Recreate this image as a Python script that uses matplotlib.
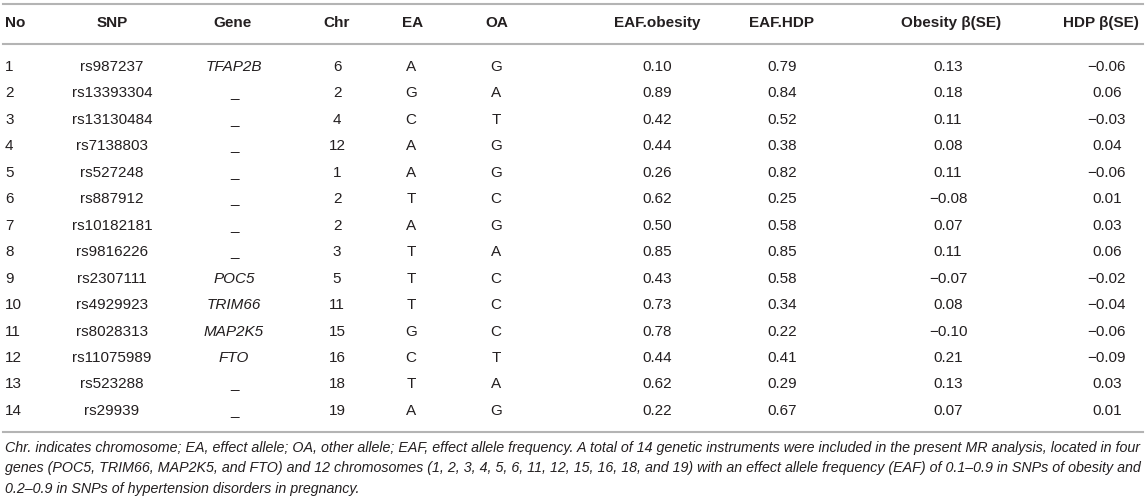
import matplotlib
matplotlib.use("Agg")
from matplotlib import pyplot as plt
from matplotlib.lines import Line2D

plt.rcParams['font.family'] = ['Liberation Sans', 'DejaVu Sans']

# table contents
headers = ['No', 'SNP', 'Gene', 'Chr', 'EA', 'OA', 'EAF.obesity', 'EAF.HDP', 'Obesity β(SE)', 'HDP β(SE)']
snp = ['rs987237', 'rs13393304', 'rs13130484', 'rs7138803', 'rs527248', 'rs887912', 'rs10182181',
       'rs9816226', 'rs2307111', 'rs4929923', 'rs8028313', 'rs11075989', 'rs523288', 'rs29939']
gene = ['TFAP2B', '_', '_', '_', '_', '_', '_', '_', 'POC5', 'TRIM66', 'MAP2K5', 'FTO', '_', '_']
chrom = ['6', '2', '4', '12', '1', '2', '2', '3', '5', '11', '15', '16', '18', '19']
ea = ['A', 'G', 'C', 'A', 'A', 'T', 'A', 'T', 'T', 'T', 'G', 'C', 'T', 'A']
oa = ['G', 'A', 'T', 'G', 'G', 'C', 'G', 'A', 'C', 'C', 'C', 'T', 'A', 'G']
eaf_obesity = ['0.10', '0.89', '0.42', '0.44', '0.26', '0.62', '0.50', '0.85', '0.43', '0.73', '0.78', '0.44', '0.62', '0.22']
eaf_hdp = ['0.79', '0.84', '0.52', '0.38', '0.82', '0.25', '0.58', '0.85', '0.58', '0.34', '0.22', '0.41', '0.29', '0.67']
beta_obesity = ['0.13', '0.18', '0.11', '0.08', '0.11', '−0.08', '0.07', '0.11', '−0.07', '0.08', '−0.10', '0.21', '0.13', '0.07']
beta_hdp = ['−0.06', '0.06', '−0.03', '0.04', '−0.06', '0.01', '0.03', '0.06', '−0.02', '−0.04', '−0.06', '−0.09', '0.03', '0.01']

footnote = [
    'Chr. indicates chromosome; EA, effect allele; OA, other allele; EAF, effect allele frequency. A total of 14 genetic instruments were included in the present MR analysis, located in four',
    'genes (POC5, TRIM66, MAP2K5, and FTO) and 12 chromosomes (1, 2, 3, 4, 5, 6, 11, 12, 15, 16, 18, and 19) with an effect allele frequency (EAF) of 0.1–0.9 in SNPs of obesity and',
    '0.2–0.9 in SNPs of hypertension disorders in pregnancy.',
]

W, H = 1146, 501
fig = plt.figure(figsize=(W / 100, H / 100), dpi=100)

def px(x, y):
    return x / W, 1 - y / H

col_x = [5, 112, 234, 337, 411, 496, 657, 782, 948, 1107]
head_x = [5, 112, 233, 337, 413, 497, 657, 781, 951, 1101]
col_ha = ['left'] + ['center'] * 9
txt_col = '#231f20'
line_col = '#b4b4b4'

# rules
for y in [4, 44, 432]:
    x0, y0 = px(3, y)
    x1, _ = px(1143, y)
    fig.add_artist(Line2D([x0, x1], [y0, y0], color=line_col, lw=1.5))

# header
for x, ha, h in zip(head_x, col_ha, headers):
    fig.text(*px(x, 23), h, ha=ha, va='center', fontsize=11, fontweight='bold', color=txt_col)

# body
columns = [[str(i + 1) for i in range(len(snp))], snp, gene, chrom, ea, oa,
           eaf_obesity, eaf_hdp, beta_obesity, beta_hdp]
row0, step = 67, 26.45
for c, (x, ha, vals) in enumerate(zip(col_x, col_ha, columns)):
    for r, v in enumerate(vals):
        style = 'italic' if (c == 2 and v != '_') else 'normal'
        fig.text(*px(x, row0 + r * step), v, ha=ha, va='center', fontsize=11,
                 style=style, color=txt_col)

# footnote
for i, line in enumerate(footnote):
    fig.text(*px(5, 448 + i * 20.3), line, ha='left', va='center', fontsize=10.3,
             style='italic', color=txt_col)

plt.savefig('out.png', dpi=100)
